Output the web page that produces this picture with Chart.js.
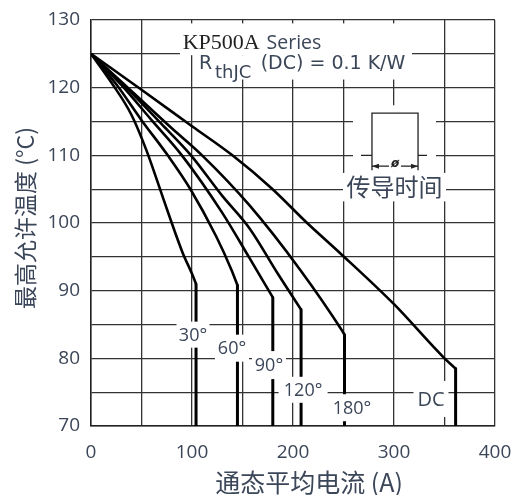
<!DOCTYPE html>
<html>
<head>
<meta charset="utf-8">
<script src="https://cdn.jsdelivr.net/npm/chart.js@4.4.1/dist/chart.umd.min.js"></script>
<style>
  html, body { margin: 0; padding: 0; background: #fff; }
</style>
</head>
<body>
<canvas id="myChart" width="522" height="495"></canvas>
<script>
// average on-state current (A) vs max allowed case temperature (°C)
// last two points of every curve are the vertical drop
const i30  = [0, 20, 40, 55, 67, 79, 91, 100, 104, 104];
const t30  = [125, 120.8, 116, 110.7, 105.6, 100.4, 95.5, 92.5, 91, 70];
const i60  = [0, 25, 50, 76, 98, 124, 139, 145, 145];
const t60  = [125, 120.5, 115.2, 110, 105.1, 98, 93.1, 90.8, 70];
const i90  = [0, 30, 60, 90, 130, 157, 180, 180];
const t90  = [125, 120.4, 115.2, 110, 101.5, 94.8, 89, 70];
const i120 = [0, 35, 70, 99, 130, 157, 185, 208, 208];
const t120 = [125, 120, 114.6, 110, 104, 99.2, 92.5, 87.2, 70];
const i180 = [0, 40, 80, 110, 157, 207, 249, 251, 251];
const t180 = [125, 119.5, 114, 110, 102.6, 93.1, 84, 83.5, 70];
const iDC  = [0, 50, 100, 140, 179, 214, 247, 300, 350, 361, 361];
const tDC  = [125, 119.7, 114.3, 110, 105.1, 100, 95.5, 88, 80, 78.5, 70];

const curveNames = ['30°', '60°', '90°', '120°', '180°', 'DC'];
const xTicks = [0, 100, 200, 300, 400];
const yTicks = [70, 80, 90, 100, 110, 120, 130];

const series = [[i30, t30], [i60, t60], [i90, t90], [i120, t120], [i180, t180], [iDC, tDC]];

const textColor = '#3b4658';
const gridColor = '#333';

const notes = {
  id: 'notes',
  afterDatasetsDraw(chart) {
    const ctx = chart.ctx;
    const xs = chart.scales.x, ys = chart.scales.y;
    const px = v => xs.getPixelForValue(v);
    const py = v => ys.getPixelForValue(v);
    const box = (a, b, c, d) => ctx.fillRect(px(a), py(b), px(c) - px(a), py(d) - py(b));

    ctx.save();
    ctx.fillStyle = '#fff';
    // white areas behind the title and the inset
    box(88.1, 129.5, 317.8, 124.8);
    box(103, 124.8, 317.8, 121.2);
    box(259.4, 117.4, 341.6, 107.4);
    box(249.5, 107.4, 351.5, 103.2);

    // curve labels, each on a white patch
    const spots = [[101, 83.5, 33, 26], [139.6, 81.5, 34, 27], [176.2, 79.0, 34, 28],
                   [210, 75.35, 49, 26], [258.4, 72.7, 44, 27], [336.6, 74.0, 35, 36]];
    ctx.textAlign = 'center';
    ctx.textBaseline = 'middle';
    spots.forEach((s, k) => {
      const cx = px(s[0]), cy = py(s[1]);
      ctx.fillStyle = '#fff';
      ctx.fillRect(cx - s[2] / 2, cy - s[3] / 2, s[2], s[3]);
      ctx.fillStyle = textColor;
      ctx.font = (k === 5 ? '20px' : '18px') + ' "Open Sans"';
      ctx.fillText(curveNames[k], cx, cy + 1);
    });

    // title
    ctx.textAlign = 'left';
    ctx.textBaseline = 'alphabetic';
    ctx.fillStyle = '#222';
    ctx.font = '22px "Liberation Serif"';
    ctx.fillText('KP500A', px(90.8), py(125.75));
    ctx.fillStyle = textColor;
    ctx.font = '19.5px "Open Sans"';
    ctx.fillText('Series', px(173.8), py(125.75));
    ctx.font = '19px "DejaVu Sans"';
    ctx.fillText('R', px(106.9), py(122.8));
    ctx.fillText('(DC) = 0.1 K/W', px(168), py(122.8));
    ctx.font = '18px "DejaVu Sans"';
    ctx.fillText('thJC', px(122.8), py(121.5));

    // conduction pulse inset
    ctx.strokeStyle = '#222';
    ctx.lineWidth = 1.3;
    ctx.beginPath();
    ctx.moveTo(px(267.3), py(110)); ctx.lineTo(px(278.2), py(110));
    ctx.moveTo(px(278.2), py(107.8)); ctx.lineTo(px(278.2), py(116.25));
    ctx.lineTo(px(323.8), py(116.25)); ctx.lineTo(px(323.8), py(107.8));
    ctx.moveTo(px(323.8), py(110)); ctx.lineTo(px(332.7), py(110));
    const ay = py(108.4), ax1 = px(278.2), ax2 = px(323.8);
    ctx.moveTo(ax1, ay); ctx.lineTo(ax2, ay);
    ctx.stroke();
    ctx.fillStyle = '#222';
    ctx.beginPath();
    ctx.moveTo(ax1, ay); ctx.lineTo(ax1 + 7, ay - 2.5); ctx.lineTo(ax1 + 7, ay + 2.5); ctx.closePath();
    ctx.moveTo(ax2, ay); ctx.lineTo(ax2 - 7, ay - 2.5); ctx.lineTo(ax2 - 7, ay + 2.5); ctx.closePath();
    ctx.fill();
    ctx.fillStyle = '#fff';
    ctx.fillRect(px(301) - 6, ay - 7, 12, 12);
    ctx.fillStyle = '#222';
    ctx.textAlign = 'center';
    ctx.textBaseline = 'middle';
    ctx.font = 'italic bold 12px "DejaVu Sans"';
    ctx.fillText('ø', px(301), ay - 2);
    ctx.fillStyle = textColor;
    ctx.font = '24px "Noto Sans CJK SC"';
    ctx.fillText('传导时间', px(300.5), py(105.3));
    ctx.restore();
  },
  afterDraw(chart) {
    const ctx = chart.ctx;
    ctx.save();
    ctx.fillStyle = textColor;
    ctx.textAlign = 'center';
    ctx.textBaseline = 'middle';
    ctx.font = '25px "Noto Sans CJK SC"';
    ctx.fillText('通态平均电流 (A)', 309, 482);
    ctx.translate(25, 218);
    ctx.rotate(-Math.PI / 2);
    ctx.font = '23px "Noto Sans CJK SC"';
    ctx.fillText('最高允许温度 (°C)', 0, 0);
    ctx.restore();
  }
};

const lineStyle = {
  showLine: true,
  borderColor: '#000',
  borderWidth: 2.6,
  pointRadius: 0,
  borderJoinStyle: 'round'
};

const datasets = [];
series.forEach((s, k) => {
  const pts = s[0].map((v, j) => ({ x: v, y: s[1][j] }));
  // smooth bend part, then the straight vertical drop
  datasets.push(Object.assign({ label: curveNames[k], data: pts.slice(0, -1), cubicInterpolationMode: 'monotone' }, lineStyle));
  datasets.push(Object.assign({ label: curveNames[k] + ' drop', data: pts.slice(-2), tension: 0 }, lineStyle, { borderWidth: 3 }));
});

const ctx = document.getElementById('myChart').getContext('2d');
const myChart = new Chart(ctx, {
  type: 'scatter',
  data: { datasets: datasets },
  options: {
    responsive: false,
    animation: false,
    layout: { padding: { top: 20, right: 27, left: 0, bottom: 0 } },
    plugins: { legend: { display: false }, tooltip: { enabled: false } },
    scales: {
      x: {
        type: 'linear', min: 0, max: 400,
        afterFit: s => { s.height = 69; s.paddingRight = 0; s.paddingLeft = 0; },
        ticks: {
          stepSize: 50, autoSkip: false, maxRotation: 0, padding: 15,
          color: textColor, font: { family: 'Open Sans', size: 19 },
          callback: v => xTicks.includes(v) ? v : ''
        },
        grid: { color: gridColor, lineWidth: 1.3, drawTicks: false },
        border: { color: '#222', width: 1.5 }
      },
      y: {
        min: 70, max: 130,
        afterFit: s => { s.width = 91; s.paddingTop = 0; s.paddingBottom = 0; },
        ticks: {
          stepSize: 5, autoSkip: false, padding: 11,
          color: textColor, font: { family: 'Open Sans', size: 19 },
          callback: v => yTicks.includes(v) ? v : ''
        },
        grid: { color: gridColor, lineWidth: 1.3, drawTicks: false },
        border: { color: '#222', width: 1.5 }
      }
    }
  },
  plugins: [notes]
});
</script>
</body>
</html>
